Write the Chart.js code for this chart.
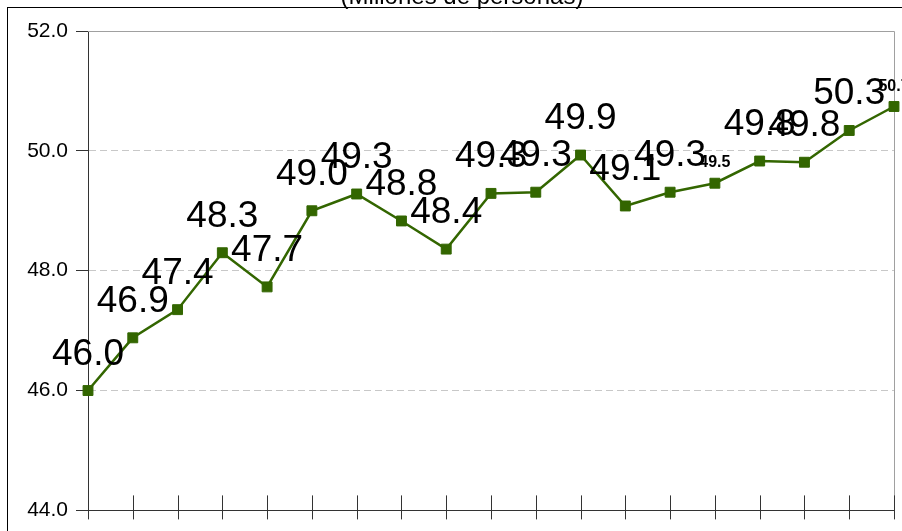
<!DOCTYPE html>
<html>
<head>
<meta charset="utf-8">
<script src="https://cdn.jsdelivr.net/npm/chart.js@4"></script>
<style>
  html, body { margin: 0; padding: 0; background: #fff; overflow: hidden; }
  #wrap { width: 902px; height: 531px; }
</style>
</head>
<body>
<div id="wrap"><canvas id="lineChart" width="902" height="531"></canvas></div>
<script>
// periodos (las etiquetas del eje x quedan fuera del recorte)
const periodos = ['1', '2', '3', '4', '5', '6', '7', '8', '9', '10',
                  '11', '12', '13', '14', '15', '16', '17', '18', '19'];
// millones de personas
const valores = [46.00, 46.88, 47.35, 48.30, 47.73, 49.00, 49.28, 48.83, 48.36, 49.29,
                 49.31, 49.93, 49.08, 49.31, 49.46, 49.83, 49.81, 50.34, 50.74];
const yTicks = [44.0, 46.0, 48.0, 50.0, 52.0];
const titulo = '(Millones de personas)';

// etiquetas que salen pequeñas y en negrita
const etiquetasChicas = [14, 18];

const verde = '#336600';
const fuente = '"Liberation Sans", Arial, sans-serif';

const marcoPlugin = {
    id: 'marco',
    beforeDraw(chart) {
        const ctx = chart.ctx;
        ctx.save();
        ctx.fillStyle = '#fff';
        ctx.fillRect(0, 0, chart.width, chart.height);
        // borde exterior
        ctx.strokeStyle = '#000';
        ctx.lineWidth = 1;
        ctx.strokeRect(7.5, 7.5, chart.width + 20, chart.height + 20);
        // titulo cortado arriba
        ctx.fillStyle = '#000';
        ctx.font = '24px ' + fuente;
        ctx.textAlign = 'center';
        ctx.textBaseline = 'alphabetic';
        ctx.fillText(titulo, 462, 4);
        ctx.restore();
    },
    beforeDatasetsDraw(chart) {
        const ctx = chart.ctx;
        const a = chart.chartArea;
        ctx.save();
        ctx.strokeStyle = '#a0a0a0';
        ctx.lineWidth = 1;
        ctx.beginPath();
        ctx.moveTo(a.left, a.top + 0.5);
        ctx.lineTo(a.right + 0.5, a.top + 0.5);
        ctx.lineTo(a.right + 0.5, a.bottom);
        ctx.stroke();
        // marcas del eje x que cruzan el eje
        const x = chart.scales.x;
        ctx.strokeStyle = '#333';
        ctx.beginPath();
        periodos.forEach((p, i) => {
            const px = Math.round(x.getPixelForValue(i)) + 0.5;
            ctx.moveTo(px, a.bottom - 15);
            ctx.lineTo(px, a.bottom + 9);
        });
        ctx.stroke();
        ctx.restore();
    },
    afterDatasetsDraw(chart) {
        const ctx = chart.ctx;
        const meta = chart.getDatasetMeta(0);
        ctx.save();
        ctx.fillStyle = '#000';
        ctx.textAlign = 'center';
        ctx.textBaseline = 'alphabetic';
        meta.data.forEach((pt, i) => {
            const chica = etiquetasChicas.includes(i);
            ctx.font = chica ? 'bold 16px ' + fuente : '37px ' + fuente;
            ctx.fillText(valores[i].toFixed(1), pt.x, pt.y - (chica ? 16 : 26));
        });
        ctx.restore();
    }
};

new Chart(document.getElementById('lineChart'), {
    type: 'line',
    data: {
        labels: periodos,
        datasets: [{
            data: valores,
            borderColor: verde,
            borderWidth: 2.5,
            backgroundColor: verde,
            pointStyle: 'rect',
            pointRadius: 7,
            pointBorderWidth: 1,
            pointBorderColor: verde,
            pointBackgroundColor: verde,
            tension: 0,
            fill: false
        }]
    },
    options: {
        responsive: false,
        animation: false,
        devicePixelRatio: 1,
        layout: { padding: { top: 31, right: 6, left: 0, bottom: 0 } },
        plugins: {
            legend: { display: false },
            tooltip: { enabled: false },
            title: { display: false }
        },
        scales: {
            x: {
                offset: false,
                ticks: { display: false },
                grid: { display: true, drawOnChartArea: false, drawTicks: false },
                border: { display: true, color: '#333', width: 1 },
                afterFit(scale) { scale.height = 19; }
            },
            y: {
                min: 44,
                max: 52,
                afterBuildTicks(scale) { scale.ticks = yTicks.map(v => ({ value: v })); },
                ticks: {
                    color: '#000',
                    padding: 8,
                    font: { family: fuente, size: 21 },
                    callback: v => Number(v).toFixed(1)
                },
                grid: {
                    color: '#c8c8c8',
                    tickColor: '#333',
                    tickLength: 12,
                    tickBorderDash: [],
                    lineWidth: 1
                },
                border: { display: true, color: '#333', width: 1, dash: [7, 4] },
                afterFit(scale) { scale.width = 88; }
            }
        }
    },
    plugins: [marcoPlugin]
});
</script>
</body>
</html>
